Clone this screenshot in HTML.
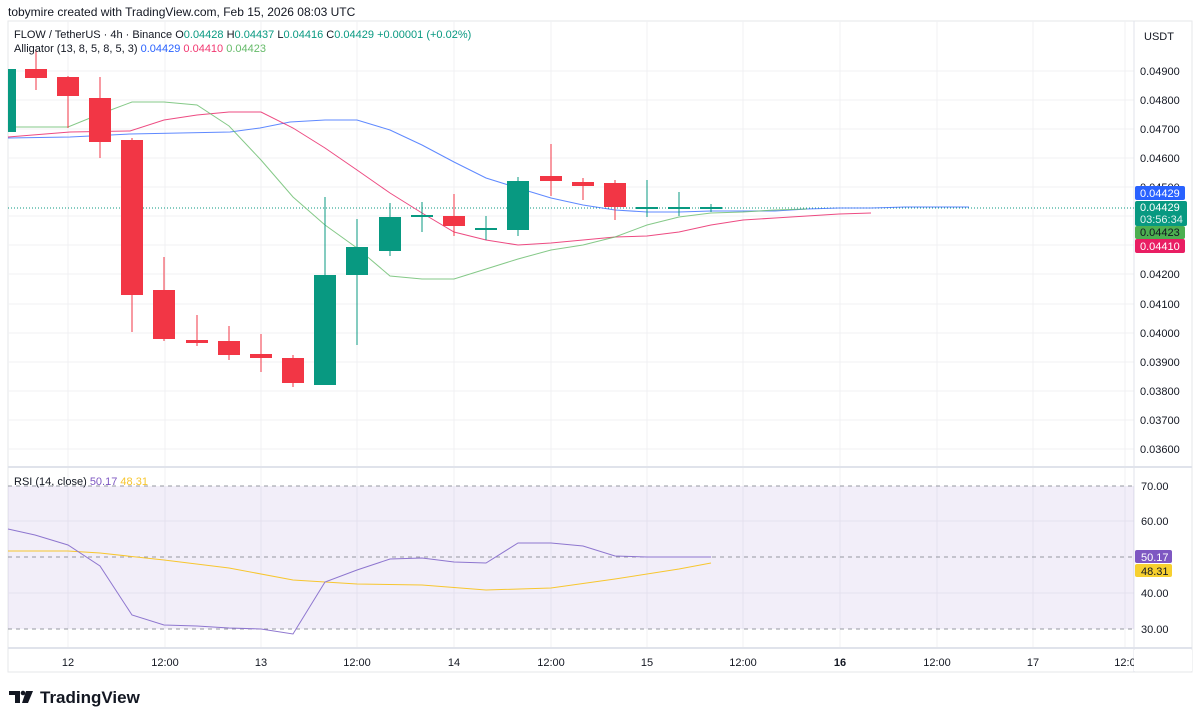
<!DOCTYPE html>
<html><head><meta charset="utf-8"><style>
body{margin:0;background:#fff;width:1200px;height:721px;overflow:hidden;font-family:"Liberation Sans",sans-serif}
svg text{font-family:"Liberation Sans",sans-serif}
</style></head><body>
<svg width="1200" height="721" viewBox="0 0 1200 721" xmlns="http://www.w3.org/2000/svg">
<rect width="1200" height="721" fill="#fff"/>
<text x="8" y="16" font-size="12" fill="#131722">tobymire created with TradingView.com, Feb 15, 2026 08:03 UTC</text>
<!-- frame -->
<rect x="8" y="21" width="1184" height="651" fill="none" stroke="#e6e7ea"/>
<!-- grid -->
<g stroke="#f0f1f3" stroke-width="1">
<line x1="68" y1="21" x2="68" y2="648"/><line x1="165" y1="21" x2="165" y2="648"/><line x1="261" y1="21" x2="261" y2="648"/><line x1="357" y1="21" x2="357" y2="648"/><line x1="454" y1="21" x2="454" y2="648"/><line x1="551" y1="21" x2="551" y2="648"/><line x1="647" y1="21" x2="647" y2="648"/><line x1="743" y1="21" x2="743" y2="648"/><line x1="840" y1="21" x2="840" y2="648"/><line x1="937" y1="21" x2="937" y2="648"/><line x1="1033" y1="21" x2="1033" y2="648"/><line x1="1125" y1="21" x2="1125" y2="648"/>
<line x1="8" y1="71" x2="1134" y2="71"/><line x1="8" y1="100" x2="1134" y2="100"/><line x1="8" y1="129" x2="1134" y2="129"/><line x1="8" y1="158" x2="1134" y2="158"/><line x1="8" y1="187" x2="1134" y2="187"/><line x1="8" y1="216" x2="1134" y2="216"/><line x1="8" y1="245" x2="1134" y2="245"/><line x1="8" y1="274" x2="1134" y2="274"/><line x1="8" y1="304" x2="1134" y2="304"/><line x1="8" y1="333" x2="1134" y2="333"/><line x1="8" y1="362" x2="1134" y2="362"/><line x1="8" y1="391" x2="1134" y2="391"/><line x1="8" y1="420" x2="1134" y2="420"/><line x1="8" y1="449" x2="1134" y2="449"/>
<line x1="8" y1="521" x2="1134" y2="521"/><line x1="8" y1="593" x2="1134" y2="593"/>
</g>
<line x1="1134" y1="21" x2="1134" y2="672" stroke="#e0e3eb"/>
<line x1="8" y1="467" x2="1192" y2="467" stroke="#e0e3eb" stroke-width="2"/>
<line x1="8" y1="648" x2="1192" y2="648" stroke="#e0e3eb" stroke-width="2"/>
<!-- current price dotted -->
<line x1="8" y1="208" x2="1134" y2="208" stroke="#089981" stroke-dasharray="1 2" stroke-width="1"/>
<!-- alligator -->
<polyline fill="none" stroke="#2962ff" stroke-width="1" opacity="0.75" points="8,138 70,137 130,134 230,132 260,128 290,122 325,120 357,120 390,130 422,145 454,162 486,178 518,188 551,198 583,205 615,210 647,212 679,212 711,211 743,211 775,211 807,209 839,208 871,208 905,207 937,207 969,207"/>
<polyline fill="none" stroke="#e91e63" stroke-width="1" opacity="0.8" points="8,137 70,132 130,131 164,120 197,115 229,112 261,112 293,128 325,148 357,170 390,193 422,213 454,232 486,240 518,245 551,243 583,240 615,237 647,236 679,232 711,225 743,220 775,218 807,216 839,214 871,213"/>
<polyline fill="none" stroke="#66bb6a" stroke-width="1" opacity="0.8" points="8,127 68,127 100,114 132,102 164,102 197,105 229,126 261,160 293,197 325,225 357,248 390,276 422,279 454,279 486,269 518,259 551,250 583,245 615,237 647,225 679,217 711,213 743,212 775,210 807,209"/>
<!-- candles -->
<g stroke-width="1">
<g fill="#089981" stroke="#089981">
<rect x="8" y="69" width="8" height="63" stroke="none"/>
<line x1="325" y1="197" x2="325" y2="385"/><rect x="314" y="275" width="22" height="110" stroke="none"/>
<line x1="357" y1="219" x2="357" y2="345"/><rect x="346" y="247" width="22" height="28" stroke="none"/>
<line x1="390" y1="203" x2="390" y2="256"/><rect x="379" y="217" width="22" height="34" stroke="none"/>
<line x1="422" y1="202" x2="422" y2="232"/><rect x="411" y="215" width="22" height="2" stroke="none"/>
<line x1="486" y1="216" x2="486" y2="240"/><rect x="475" y="228" width="22" height="2" stroke="none"/>
<line x1="518" y1="177" x2="518" y2="236"/><rect x="507" y="181" width="22" height="49" stroke="none"/>
<line x1="647" y1="180" x2="647" y2="217"/><rect x="636" y="207" width="22" height="2" stroke="none"/>
<line x1="679" y1="192" x2="679" y2="216"/><rect x="668" y="207" width="22" height="2" stroke="none"/>
<line x1="711" y1="204" x2="711" y2="212"/><rect x="700" y="207" width="22" height="2" stroke="none"/>
</g>
<g fill="#f23645" stroke="#f23645">
<line x1="36" y1="50" x2="36" y2="90"/><rect x="25" y="69" width="22" height="9" stroke="none"/>
<line x1="68" y1="76" x2="68" y2="128"/><rect x="57" y="77" width="22" height="19" stroke="none"/>
<line x1="100" y1="77" x2="100" y2="158"/><rect x="89" y="98" width="22" height="44" stroke="none"/>
<line x1="132" y1="138" x2="132" y2="332"/><rect x="121" y="140" width="22" height="155" stroke="none"/>
<line x1="164" y1="257" x2="164" y2="341"/><rect x="153" y="290" width="22" height="49" stroke="none"/>
<line x1="197" y1="315" x2="197" y2="346"/><rect x="186" y="340" width="22" height="3" stroke="none"/>
<line x1="229" y1="326" x2="229" y2="360"/><rect x="218" y="341" width="22" height="14" stroke="none"/>
<line x1="261" y1="334" x2="261" y2="372"/><rect x="250" y="354" width="22" height="4" stroke="none"/>
<line x1="293" y1="355" x2="293" y2="387"/><rect x="282" y="358" width="22" height="25" stroke="none"/>
<line x1="454" y1="194" x2="454" y2="236"/><rect x="443" y="216" width="22" height="10" stroke="none"/>
<line x1="551" y1="144" x2="551" y2="196"/><rect x="540" y="176" width="22" height="5" stroke="none"/>
<line x1="583" y1="178" x2="583" y2="200"/><rect x="572" y="182" width="22" height="4" stroke="none"/>
<line x1="615" y1="180" x2="615" y2="220"/><rect x="604" y="183" width="22" height="24" stroke="none"/>
</g></g>
<!-- legend -->
<text x="14" y="38" font-size="11" fill="#131722">FLOW / TetherUS · 4h · Binance  <tspan>O</tspan><tspan fill="#089981">0.04428</tspan>  H<tspan fill="#089981">0.04437</tspan>  L<tspan fill="#089981">0.04416</tspan>  C<tspan fill="#089981">0.04429</tspan> <tspan fill="#089981">+0.00001 (+0.02%)</tspan></text>
<text x="14" y="52" font-size="11" fill="#131722">Alligator (13, 8, 5, 8, 5, 3)  <tspan fill="#2962ff">0.04429</tspan>  <tspan fill="#f23670">0.04410</tspan>  <tspan fill="#66bb6a">0.04423</tspan></text>
<!-- price axis -->
<text x="1144" y="40" font-size="11" fill="#131722">USDT</text>
<g font-size="11" fill="#131722">
<text x="1140" y="75">0.04900</text><text x="1140" y="104">0.04800</text><text x="1140" y="133">0.04700</text><text x="1140" y="162">0.04600</text><text x="1140" y="191">0.04500</text><text x="1140" y="278">0.04200</text><text x="1140" y="308">0.04100</text><text x="1140" y="337">0.04000</text><text x="1140" y="366">0.03900</text><text x="1140" y="395">0.03800</text><text x="1140" y="424">0.03700</text><text x="1140" y="453">0.03600</text>
</g>
<rect x="1135" y="186" width="50" height="14" rx="2" fill="#2962ff"/><text x="1140" y="197" font-size="11" fill="#fff">0.04429</text>
<rect x="1135" y="201" width="52" height="25" rx="2" fill="#089981"/><text x="1140" y="211" font-size="11" fill="#fff">0.04429</text><text x="1140" y="223" font-size="11" fill="#e0f2ef">03:56:34</text>
<rect x="1135" y="226" width="50" height="13" rx="2" fill="#4caf50"/><text x="1140" y="236" font-size="11" fill="#131722">0.04423</text>
<rect x="1135" y="239" width="50" height="14" rx="2" fill="#e91e63"/><text x="1140" y="250" font-size="11" fill="#fff">0.04410</text>
<!-- RSI -->
<rect x="8" y="486" width="1126" height="143" fill="#7e57c2" opacity="0.1"/>
<g stroke="#9598a1" stroke-dasharray="4 4"><line x1="8" y1="486" x2="1134" y2="486"/><line x1="8" y1="557" x2="1134" y2="557"/><line x1="8" y1="629" x2="1134" y2="629"/></g>
<polyline fill="none" stroke="#f7c62f" stroke-width="1" points="8,551 68,551 100,553 164,560 229,568 293,580 357,584 422,585 486,590 551,588 615,579 679,569 711,563"/>
<polyline fill="none" stroke="#8e76cf" stroke-width="1" points="8,529 35,535 68,545 100,566 132,615 164,625 197,626 229,628 261,629 293,634 325,582 357,570 390,559 422,558 454,562 486,563 518,543 551,543 583,546 615,556 647,557 679,557 711,557"/>
<text x="14" y="485" font-size="11" fill="#131722">RSI (14, close)  <tspan fill="#7e57c2">50.17</tspan>  <tspan fill="#f7c62f">48.31</tspan></text>
<g font-size="11" fill="#131722"><text x="1141" y="490">70.00</text><text x="1141" y="525">60.00</text><text x="1141" y="597">40.00</text><text x="1141" y="633">30.00</text></g>
<rect x="1135" y="550" width="37" height="13" rx="2" fill="#7e57c2"/><text x="1141" y="561" font-size="11" fill="#fff">50.17</text>
<rect x="1135" y="564" width="37" height="13" rx="2" fill="#f7d02f"/><text x="1141" y="575" font-size="11" fill="#131722">48.31</text>
<!-- time axis -->
<g font-size="11" fill="#131722" text-anchor="middle">
<text x="68" y="666">12</text><text x="165" y="666">12:00</text><text x="261" y="666">13</text><text x="357" y="666">12:00</text><text x="454" y="666">14</text><text x="551" y="666">12:00</text><text x="647" y="666">15</text><text x="743" y="666">12:00</text><text x="840" y="666" font-weight="bold">16</text><text x="937" y="666">12:00</text><text x="1033" y="666">17</text><text x="1125" y="666">12:0</text>
</g>
<rect x="1134" y="650" width="58" height="21" fill="#fff"/>
<!-- logo -->
<g fill="#131722"><rect x="9" y="691" width="11" height="4"/><rect x="15" y="691" width="5" height="12"/><circle cx="23" cy="693" r="2.3"/><polygon points="26,691 33,691 28,703 22,703"/></g>
<text x="40" y="703" font-size="17" font-weight="bold" fill="#131722">TradingView</text>
</svg>
</body></html>
